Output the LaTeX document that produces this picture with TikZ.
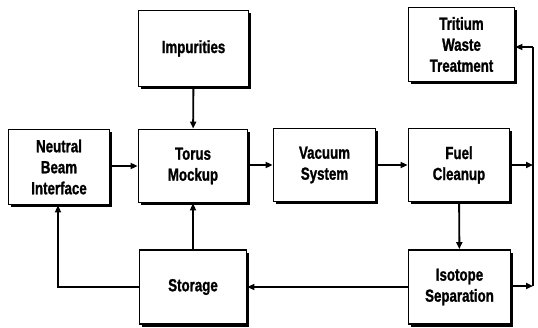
\documentclass[tikz,border=0pt]{standalone}
\usepackage{fontspec}
\usetikzlibrary{shadows,arrows.meta}
\newfontfamily\condbold[FakeStretch=0.76,FakeBold=1.2]{Liberation Sans Bold}
\begin{document}
\begin{tikzpicture}[x=1pt,y=-1pt,
  blk/.style={draw, line width=1.8pt, fill=white, inner sep=0pt, align=center,
    font=\condbold\fontsize{17.5}{21}\selectfont,
    drop shadow={shadow xshift=2.5pt, shadow yshift=-2.5pt, fill=black, opacity=1}},
  flow/.style={line width=1.9pt, -{Triangle[length=7pt,width=6pt]}},
  wire/.style={line width=1.9pt}]
\useasboundingbox (0,0) rectangle (538,327);

% process blocks
\node[blk, minimum width=110pt, minimum height=76pt] (imp)  at (193.5,48.5) {Impurities};
\node[blk, minimum width=101pt, minimum height=75pt] (nbi)  at (59,167)     {Neutral\\Beam\\Interface};
\node[blk, minimum width=109pt, minimum height=73pt] (tor)  at (193,166)    {Torus\\Mockup};
\node[blk, minimum width=102pt, minimum height=73pt] (vac)  at (324.5,165)  {Vacuum\\System};
\node[blk, minimum width=101pt, minimum height=73pt] (fuel) at (459,165)    {Fuel\\Cleanup};
\node[blk, minimum width=106pt, minimum height=74pt] (trit) at (461.5,44.5) {Tritium\\Waste\\Treatment};
\node[blk, minimum width=107pt, minimum height=74pt] (stor) at (193,287)    {Storage};
\node[blk, minimum width=102pt, minimum height=74pt] (iso)  at (459.5,287)  {Isotope\\Separation};

% junctions on the return line at the right
\coordinate (jt) at (533,47);
\coordinate (jf) at (533,165);
\coordinate (ji) at (533,286);
\coordinate (jn) at (58,287);

% connectors
\draw[flow] (imp) -- (tor);
\draw[flow] (nbi.east |- tor) -- (tor);
\draw[flow] (tor.east |- vac) -- (vac);
\draw[flow] (vac) -- (fuel);
\draw[flow] (fuel) -- (iso);
\draw[flow] (fuel.east) -- (jf);
\draw[flow] (iso.east |- ji) -- (ji);
\draw[wire] (ji) -- (jt);
\draw[flow] (jt) -- (trit.east |- jt);
\draw[flow] (iso.west |- jn) -- (stor.east |- jn);
\draw[flow] (stor) -- (tor);
\draw[flow] (stor.west |- jn) -- (jn) -- (nbi.south -| jn);
\end{tikzpicture}
\end{document}
